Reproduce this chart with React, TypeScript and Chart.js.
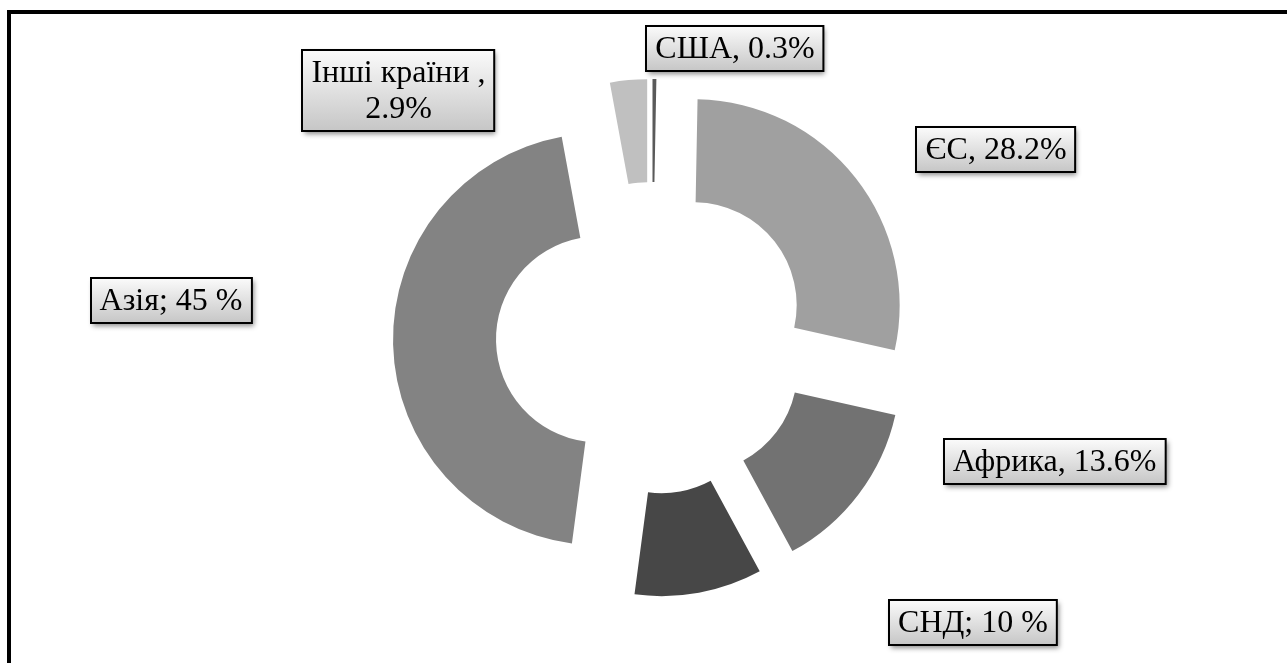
import React, { useEffect, useRef } from "react";
import { Chart, registerables } from "chart.js";

Chart.register(...registerables);

const categories = ["США", "ЄС", "Африка", "СНД", "Азія", "Інші країни"];
const shares = [0.3, 28.2, 13.6, 10, 45, 2.9];
const labelTexts = [
  ["США, 0.3%"],
  ["ЄС, 28.2%"],
  ["Африка, 13.6%"],
  ["СНД; 10 %"],
  ["Азія; 45 %"],
  ["Інші країни ,", "2.9%"],
];
const sliceColors = ["#5a5a5a", "#a0a0a0", "#727272", "#474747", "#838383", "#c0c0c0"];
// label box centres relative to the doughnut centre (manually placed, as in the source)
const labelOffsets = [
  [83, -289.5],
  [344, -188.5],
  [402.5, 123.5],
  [321, 284],
  [-481, -37.5],
  [-253.5, -248],
];

const EXPLODE = 53; // radial explosion of every slice, px
const FONT = "32px 'Liberation Serif', 'Times New Roman', serif";

const framePlugin = {
  id: "frame",
  beforeDraw(chart: any) {
    const ctx = chart.ctx;
    ctx.save();
    ctx.fillStyle = "#ffffff";
    ctx.fillRect(0, 0, chart.width, chart.height);
    ctx.fillStyle = "#000000";
    ctx.fillRect(7, 10, 4, chart.height);
    ctx.fillRect(7, 10, chart.width, 4);
    ctx.restore();
  },
};

// draw each library arc element shifted straight out along its bisector (Excel-style explosion)
const explodePlugin = {
  id: "explode",
  beforeDatasetsDraw(chart: any) {
    const ctx = chart.ctx;
    const meta = chart.getDatasetMeta(0);
    meta.data.forEach((arc: any) => {
      const half = (arc.startAngle + arc.endAngle) / 2;
      ctx.save();
      ctx.translate(Math.cos(half) * EXPLODE, Math.sin(half) * EXPLODE);
      arc.draw(ctx);
      ctx.restore();
    });
    return false;
  },
};

const labelPlugin = {
  id: "boxLabels",
  afterDraw(chart: any) {
    const ctx = chart.ctx;
    const meta = chart.getDatasetMeta(0);
    const arc0 = meta.data[0];
    if (!arc0) return;
    const cx = arc0.x;
    const cy = arc0.y;
    ctx.save();
    ctx.font = FONT;
    ctx.textAlign = "center";
    ctx.textBaseline = "middle";
    labelTexts.forEach((lines, i) => {
      const [dx, dy] = labelOffsets[i];
      const x = cx + dx;
      const y = cy + dy;
      const lineH = 36;
      const w = Math.max(...lines.map((l) => ctx.measureText(l).width)) + 18;
      const h = lines.length * lineH + 9;
      const left = Math.round(x - w / 2);
      const top = Math.round(y - h / 2);
      ctx.save();
      ctx.shadowColor = "rgba(0,0,0,0.45)";
      ctx.shadowBlur = 5;
      ctx.shadowOffsetX = 2;
      ctx.shadowOffsetY = 3;
      const g = ctx.createLinearGradient(0, top, 0, top + h);
      g.addColorStop(0, "#fbfbfb");
      g.addColorStop(1, "#c6c6c6");
      ctx.fillStyle = g;
      ctx.fillRect(left, top, w, h);
      ctx.restore();
      ctx.lineWidth = 2;
      ctx.strokeStyle = "#000000";
      ctx.strokeRect(left, top, w, h);
      ctx.fillStyle = "#000000";
      lines.forEach((l, k) => {
        ctx.fillText(l, x, top + 4.5 + lineH * k + lineH / 2 + 1);
      });
    });
    ctx.restore();
  },
};

export default function App() {
  const ref = useRef<HTMLCanvasElement>(null);
  useEffect(() => {
    if (!ref.current) return;
    const chart = new Chart(ref.current, {
      type: "doughnut",
      data: {
        labels: categories,
        datasets: [
          {
            data: shares,
            backgroundColor: sliceColors,
            borderWidth: 0,
            offset: 0,
            radius: 206,
          } as any,
        ],
      },
      options: {
        animation: false,
        responsive: false,
        cutout: "50%",
        rotation: 0,
        layout: { padding: { left: 17, right: 0, top: 13, bottom: 0 } },
        plugins: {
          legend: { display: false },
          tooltip: { enabled: false },
        },
      } as any,
      plugins: [framePlugin, explodePlugin, labelPlugin],
    });
    return () => chart.destroy();
  }, []);
  return (
    <div style={{ position: "fixed", left: 0, top: 0, width: 1287, height: 663, background: "#fff" }}>
      <canvas ref={ref} width={1287} height={663} style={{ width: 1287, height: 663, display: "block" }} />
    </div>
  );
}
